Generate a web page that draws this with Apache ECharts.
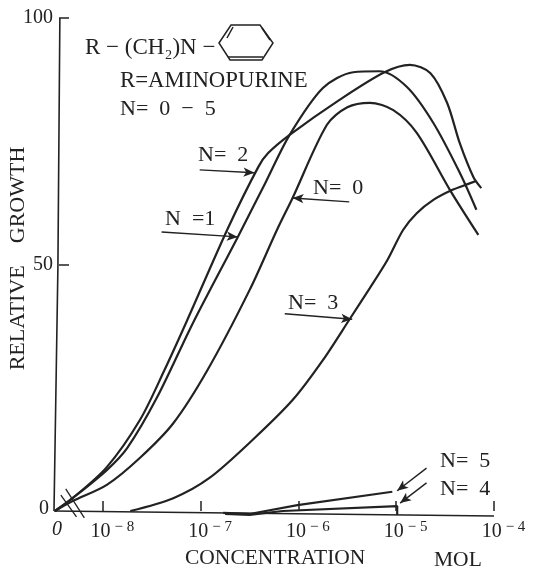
<!DOCTYPE html>
<html><head><meta charset="utf-8">
<style>html,body{margin:0;padding:0;background:#fff}#c{width:535px;height:571px}</style>
<script src="https://cdn.jsdelivr.net/npm/echarts@6/dist/echarts.min.js"></script>
</head><body><div id="c"></div>
<script>
const xTickValues=[-8,-7,-6,-5,-4];
const yTickValues=[50,100];
const yLabelValues=[0,50,100];
const n0=[[-8.49,0],[-8.31,2.0],[-7.96,5.3],[-7.62,10.8],[-7.28,17.8],[-6.93,28.6],[-6.50,44.8],[-6.22,57.0],[-6.06,63.5],[-5.71,78.3],[-5.50,81.9],[-5.27,82.8],[-5.03,81.3],[-4.79,76.7],[-4.45,65.1],[-4.16,56.0]];
const n1=[[-8.49,0],[-8.31,2.6],[-7.96,8.3],[-7.75,12.8],[-7.45,22.9],[-7.08,38.1],[-6.62,55.6],[-6.34,66.5],[-6.09,76.3],[-5.75,85.8],[-5.44,89.0],[-5.17,89.2],[-4.89,86.0],[-4.62,78.7],[-4.35,68.6],[-4.18,61.1]];
const n2=[[-8.49,0],[-8.31,2.6],[-7.96,8.9],[-7.62,18.5],[-7.37,28.6],[-7.14,38.6],[-6.72,57.4],[-6.41,69.8],[-6.31,72.6],[-6.09,76.3],[-5.58,83.4],[-5.12,89.0],[-4.86,90.5],[-4.65,88.8],[-4.48,82.8],[-4.35,74.6],[-4.21,67.7],[-4.13,65.5]];
const n3=[[-7.72,0],[-7.28,2.6],[-6.91,6.7],[-6.47,14.4],[-6.06,22.5],[-5.75,30.6],[-5.47,39.1],[-5.27,45.2],[-5.09,50.9],[-4.93,57.0],[-4.79,60.4],[-4.62,63.1],[-4.43,65.1],[-4.27,66.3],[-4.19,66.9]];
const n4=[[-6.75,-0.6],[-6.50,-0.8],[-6.16,0],[-4.99,1.0],[-4.99,-0.8]];
const n5=[[-6.77,-0.4],[-6.50,-0.6],[-6.01,1.2],[-5.04,3.9]];
const yFrame=[[-8.44,100],[-8.46,49.5],[-8.5,0]];
const xFrame=[[-8.5,0],[-4,-1.0]];
const breakA=[[-8.43,3.2],[-8.27,-1.2]];
const breakB=[[-8.38,4.5],[-8.19,-1.4]];
const arrows=[
 [[-7.01,69.2],[-6.45,68.6]],
 [[-7.40,56.6],[-6.62,55.6]],
 [[-5.48,62.7],[-6.06,63.5]],
 [[-6.14,40.0],[-5.45,38.9]],
 [[-4.69,8.7],[-4.99,4.1]],
 [[-4.69,5.7],[-4.96,1.6]]
];
const F='"Liberation Serif",serif', INK='#222';
const curve=(name,data)=>({name,type:'line',data,smooth:0.3,showSymbol:false,clip:false,silent:true,lineStyle:{color:INK,width:2.2}});
const thin=(name,data,w)=>({name,type:'line',data,showSymbol:false,clip:false,silent:true,lineStyle:{color:INK,width:w}});
const txt=(x,y,text,size)=>({type:'text',x,y,style:{text,fill:INK,font:size+'px '+F,textVerticalAlign:'middle'}});
const seg=(x1,y1,x2,y2,w)=>({type:'line',shape:{x1,y1,x2,y2},style:{stroke:INK,lineWidth:w||1.5}});
const chart=echarts.init(document.getElementById('c'),null,{renderer:'canvas'});
chart.setOption({
 animation:false,backgroundColor:'#fff',
 grid:{left:54,right:41,top:18,bottom:60,containLabel:false,outerBoundsMode:'none'},
 xAxis:{type:'value',min:-8.5,max:-4,offset:2,splitLine:{show:false},axisLine:{show:false},
  axisTick:{show:true,inside:true,length:10,lineStyle:{color:INK,width:1.5},customValues:xTickValues},
  axisLabel:{show:true,margin:7,color:INK,customValues:[-8.5].concat(xTickValues),hideOverlap:false,showMinLabel:true,showMaxLabel:true,
   formatter:v=>v===-8.5?'{z|0}':'{a|10}{b|− '+Math.abs(v)+'}',
   rich:{z:{fontFamily:F,fontSize:20,fontStyle:'italic',color:INK,padding:[0,0,0,6]},
         a:{fontFamily:F,fontSize:20,color:INK,padding:[0,0,0,19]},
         b:{fontFamily:F,fontSize:15,color:INK,padding:[0,0,8,4]}}}},
 yAxis:{type:'value',min:0,max:100,offset:-5,splitLine:{show:false},axisLine:{show:false},
  name:'RELATIVE    GROWTH',nameLocation:'middle',nameGap:30,nameRotate:90,nameMoveOverlap:false,
  nameTextStyle:{fontFamily:F,fontSize:22,color:INK,padding:[0,0,0,12]},
  axisTick:{show:true,inside:true,length:10,lineStyle:{color:INK,width:1.5},customValues:yTickValues},
  axisLabel:{show:true,margin:6,color:INK,fontFamily:F,fontSize:20,customValues:yLabelValues,
   formatter:v=>v===0?'{z|0}':String(v),rich:{z:{fontFamily:F,fontSize:20,color:INK,padding:[0,4,5,0]}}}},
 series:[
  curve('N=0',n0),curve('N=1',n1),curve('N=2',n2),curve('N=3',n3),
  {...thin('N=4',n4,2.2)},{...thin('N=5',n5,2.2)},
  thin('y axis',yFrame,1.6),thin('x axis',xFrame,1.6),thin('break a',breakA,1.3),thin('break b',breakB,1.3),
  {name:'arrows',type:'line',data:[],silent:true,clip:false,
   markLine:{silent:true,animation:false,symbol:['none','arrow'],symbolSize:[7,11],label:{show:false},
    lineStyle:{color:INK,width:1.4,type:'solid'},
    data:arrows.map(a=>[{coord:a[0]},{coord:a[1]}])}}
 ],
 graphic:[
  txt(85,48,'R − (CH₂)N −',23),
  txt(120,81,'R=AMINOPURINE',22.8),
  txt(120,109,'N=  0  −  5',22),
  txt(198,155,'N=  2',22),
  txt(165,219,'N  =1',22),
  txt(313,188,'N=  0',22),
  txt(288,303,'N=  3',22),
  txt(440,461,'N=  5',22),
  txt(440,489,'N=  4',22),
  txt(185,558,'CONCENTRATION',21.5),
  txt(434,560,'MOL',21.5),
  {type:'polygon',shape:{points:[[219,43],[231,25],[260,25],[273,43],[262,60],[230,60]]},style:{fill:'none',stroke:INK,lineWidth:1.5}},
  seg(227,38,233,27),seg(262,28,270,40),seg(228,57,263,57)
 ]
});
</script></body></html>
